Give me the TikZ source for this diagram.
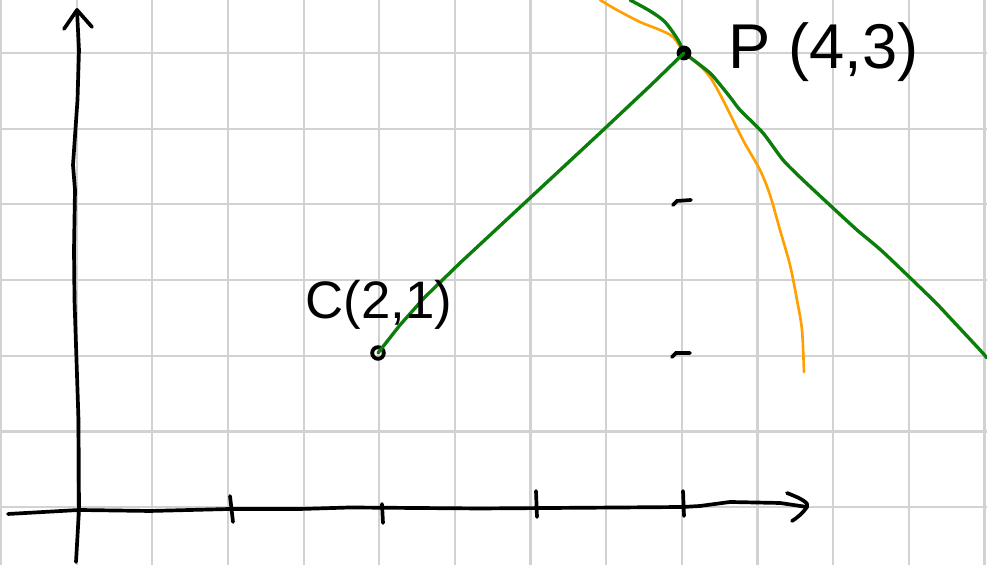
\documentclass[tikz,border=0pt]{standalone}
\usepackage{fontspec}
\setmainfont{Liberation Sans}
\definecolor{gridgray}{RGB}{210,210,210}
\definecolor{penblack}{RGB}{0,0,0}
\definecolor{pengreen}{RGB}{10,125,10}
\definecolor{penorange}{RGB}{255,160,0}
\tikzset{
  gridline/.style={gridgray, line width=0.6pt},
  axisline/.style={penblack, line width=1.05pt, line cap=round, line join=round},
  tickmark/.style={penblack, line width=1.05pt, line cap=round},
  greenpen/.style={pengreen, line width=0.95pt, line cap=round, line join=round},
  orangepen/.style={penorange, line width=0.75pt, line cap=round, line join=round},
  lbl/.style={inner sep=0pt, anchor=west},
}
\begin{document}
\begin{tikzpicture}[x=0.01cm, y=-0.01cm]
\useasboundingbox (0,0) rectangle (987,565);
% grid
\foreach \k in {0,...,13} {
  \draw[gridline] ({1+75.65*\k},0) -- ({1+75.65*\k},565);
}
\foreach \k in {-1,...,7} {
  \draw[gridline] (0,{53+75.7*\k}) -- (987,{53+75.7*\k});
}
% y axis
\coordinate (ytop) at (77,10);
\draw[axisline] (76,562) -- (79,510) -- (78.5,420) -- (74.5,300) -- (74,250) -- (75,190) -- (73,165) -- (77.5,100) -- (79,50) -- (ytop);
\draw[axisline] (64,29) -- (ytop) -- (92,27);
% x axis
\coordinate (xtip) at (807,507);
\draw[axisline] (8,514) -- (79,510) -- (150,511) -- (230,509) -- (300,509) -- (350,507.5) -- (480,508.5) -- (620,507.5) -- (683,507) -- (700,506) -- (730,502) -- (780,503) -- (xtip);
\draw[axisline] (787,493) .. controls (800,498) and (810,503) .. (xtip) .. controls (803,513) and (797,518) .. (792,521);
% ticks
\draw[tickmark] (230,496) -- (233,522);
\draw[tickmark] (382,504) -- (383,523);
\draw[tickmark] (536,491) -- (537,517);
\draw[tickmark] (683,491) -- (684,516);
\draw[tickmark] (673,205) -- (677,201) -- (691,200);
\draw[tickmark] (672,357) -- (676,353) -- (690,353);
% orange curve
\draw[orangepen] plot[smooth, tension=0.5] coordinates {(600,0) (617,10) (640,22) (660,30) (673,37) (684,52) (697,63) (710,77) (723,100) (743,140) (760,170) (770,195) (780,230) (790,265) (797,300) (802,330) (804,372)};
% green curves
\draw[greenpen] plot[smooth, tension=0.5] coordinates {(630,0) (650,11) (665,22) (678,40) (684,53)};
\draw[greenpen] plot[smooth, tension=0.4] coordinates {(684,53) (700,65) (712,75) (730,97) (740,110) (763,133) (783,160) (803,180) (833,208) (857,230) (883,252) (933,300) (952,320) (980,350) (987,358)};
% points
\node[circle, draw=penblack, line width=1.1pt, minimum size=3.3pt, inner sep=0pt] (C) at (378,353) {};
\node[circle, fill=penblack, minimum size=4.2pt, inner sep=0pt] (P) at (684,53) {};
\draw[greenpen] (C.center) -- (400,325) -- (425,297) -- (460,263) -- (530,198) -- (600,133) -- (650,86) -- (P.center);
% labels
\node[lbl, font=\fontsize{15}{15}\selectfont] (Clbl) at (305,305) {C(2,1)};
\node[lbl, font=\fontsize{18}{18}\selectfont] (Plbl) at (728,52) {P (4,3)};
\end{tikzpicture}
\end{document}
